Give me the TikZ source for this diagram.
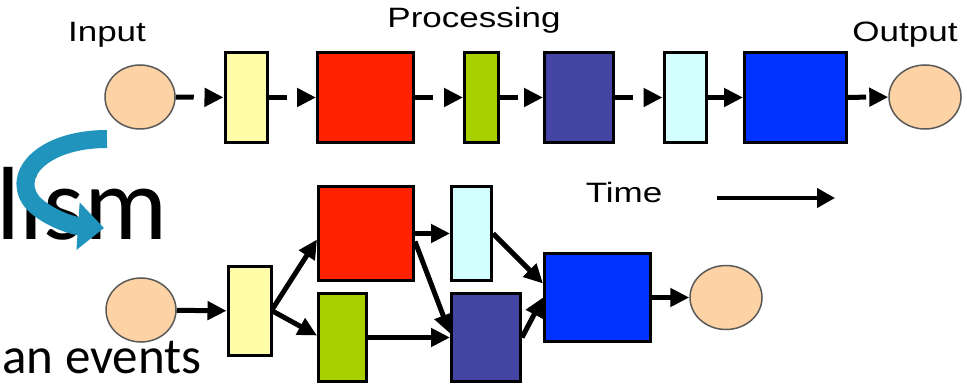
\documentclass[tikz,border=0pt]{standalone}
\usepackage{fontspec}
\setmainfont{Liberation Sans}
\newfontfamily\slidefont{Carlito}
\usepackage{graphicx}
\usetikzlibrary{shapes.geometric}
\usetikzlibrary{arrows.meta}

\definecolor{peach}{RGB}{253,211,165}
\definecolor{paleyellow}{RGB}{255,253,168}
\definecolor{hotred}{RGB}{255,34,0}
\definecolor{limegreen}{RGB}{168,208,0}
\definecolor{slate}{RGB}{68,68,164}
\definecolor{palecyan}{RGB}{212,255,255}
\definecolor{brightblue}{RGB}{0,51,255}
\definecolor{ribbon}{RGB}{32,148,188}

\newcommand{\widetext}[1]{\scalebox{1.25}[1]{#1}}

\begin{document}
\begin{tikzpicture}[x=0.5pt,y=-0.5pt,
    block/.style={draw,line width=1.5pt,inner sep=0pt},
    port/.style={ellipse,draw=black!65,line width=0.75pt,fill=peach,inner sep=0pt,minimum width=35pt,minimum height=32pt},
    heading/.style={font=\fontsize{14}{16}\selectfont,inner sep=0pt,anchor=base},
    gapflow/.style={line width=2.5pt,dash pattern=on 9pt off 40pt,-{Triangle[length=9.5pt,width=9pt]}},
    flow/.style={line width=2.5pt,-{Triangle[length=9.5pt,width=9pt]}}]
    \useasboundingbox (0,0) rectangle (967,389);
    \clip (0,0) rectangle (967,389);

    % slide text behind the picture
    \node[font=\slidefont\fontsize{52}{60}\selectfont,inner sep=0pt,anchor=base east] (lism) at (168,240) {lism};
    \node[font=\slidefont\fontsize{25.5}{30}\selectfont,inner sep=0pt,anchor=base east] (events) at (202,373) {an events};
    \draw[ribbon,line width=9pt,-{Triangle[length=13pt,width=23pt]}] (107,139) .. controls (40,139) and (8,178) .. (35,205) .. controls (52,220) and (75,226) .. (104,228);

    % labels
    \node[heading] (input) at (107,42) {\widetext{Input}};
    \node[heading] (processing) at (474,28) {\widetext{Processing}};
    \node[heading] (output) at (905,42) {\widetext{Output}};
    \node[heading] (time) at (624,203) {\widetext{Time}};

    % sequential row
    \node[port] (in1) at (140,97) {};
    \node[block,fill=paleyellow,minimum width=21pt,minimum height=45pt] (y1) at (246,97.5) {};
    \node[block,fill=hotred,minimum width=48pt,minimum height=45pt] (r1) at (365.5,97.5) {};
    \node[block,fill=limegreen,minimum width=17pt,minimum height=45pt] (g1) at (481.5,97.5) {};
    \node[block,fill=slate,minimum width=34.5pt,minimum height=45pt] (s1) at (579,97.5) {};
    \node[block,fill=palecyan,minimum width=21pt,minimum height=45pt] (c1) at (685,97.5) {};
    \node[block,fill=brightblue,minimum width=51pt,minimum height=45pt] (b1) at (795.5,97.5) {};
    \node[port,minimum width=36pt] (out1) at (925,97) {};

    \draw[gapflow] (in1) -- (y1);
    \draw[gapflow] (y1) -- (r1);
    \draw[gapflow] (r1) -- (g1);
    \draw[gapflow] (g1) -- (s1);
    \draw[gapflow] (s1) -- (c1);
    \draw[gapflow] (c1) -- (b1);
    \draw[gapflow] (b1) -- (out1);

    % parallel row
    \node[port] (in2) at (141,310) {};
    \node[block,fill=paleyellow,minimum width=21.5pt,minimum height=44.5pt] (y2) at (249.5,311) {};
    \node[block,fill=hotred,minimum width=47.5pt,minimum height=47pt] (r2) at (366,233.5) {};
    \node[block,fill=limegreen,minimum width=24pt,minimum height=44pt] (g2) at (342.5,337.5) {};
    \node[block,fill=palecyan,minimum width=20pt,minimum height=47pt] (c2) at (471.5,233.5) {};
    \node[block,fill=slate,minimum width=34.5pt,minimum height=44pt] (s2) at (486,337.5) {};
    \node[block,fill=brightblue,minimum width=53pt,minimum height=44pt] (b2) at (597.5,297.5) {};
    \node[port,minimum width=36pt] (out2) at (726,297.5) {};

    \draw[flow] (in2) -- (y2);
    \draw[flow] ([yshift=1pt]y2.east) -- ([yshift=-3pt]r2.west);
    \draw[flow] (y2.east) -- ([yshift=1pt]g2.west);
    \draw[flow] (r2.east) -- (c2.west);
    \draw[flow] ([yshift=-4pt]r2.east) -- ([yshift=2pt]s2.west);
    \draw[flow] (g2.east) -- (s2.west);
    \draw[flow] (c2.east) -- ([yshift=7pt]b2.west);
    \draw[flow] (s2.east) -- (b2.west);
    \draw[flow] (b2) -- (out2);

    % time axis
    \coordinate (t0) at (717,198);
    \coordinate (t1) at (835,198);
    \draw[line width=2pt,-{Triangle[length=9pt,width=9.5pt]}] (t0) -- (t1);
\end{tikzpicture}
\end{document}
